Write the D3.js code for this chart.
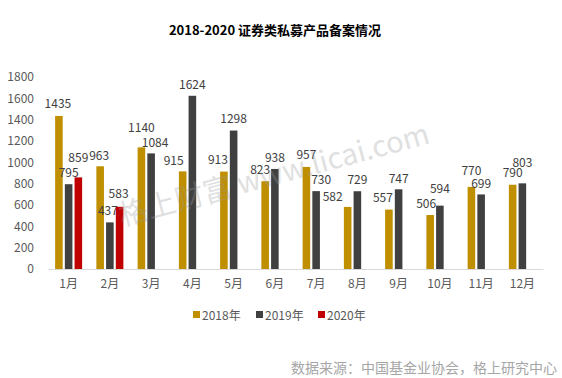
<!DOCTYPE html>
<html><head><meta charset="utf-8">
<script src="https://cdn.jsdelivr.net/npm/d3@7"></script>
<style>
body{margin:0;background:#fff;}
svg text{font-family:"Noto Sans CJK SC","Noto Sans",sans-serif;}
</style></head>
<body><svg id="c" width="562" height="378"></svg>
<script>
const title = "2018-2020 证券类私募产品备案情况";
const months = ["1月","2月","3月","4月","5月","6月","7月","8月","9月","10月","11月","12月"];
const seriesNames = ["2018年","2019年","2020年"];
const v2018 = [1435,963,1140,915,913,823,957,582,557,506,770,790];
const v2019 = [795,437,1084,1624,1298,938,730,729,747,594,699,803];
const v2020 = [859,583,null,null,null,null,null,null,null,null,null,null];
const yTicks = [0,200,400,600,800,1000,1200,1400,1600,1800];
const colors = ["#BF8F00","#404040","#C00000"];
const source = "数据来源：中国基金业协会，格上研究中心";
const watermark = "格上财富  www.licai.com";
// label nudges (px) relative to default position above each bar
const lblDx = [[-1,-1,0,-9,-6,-5,0,-15,-6,-4,0,0],[0,-2,4,0,0,0,5,0,0,0,0,0],[0,-1]];
const lblDy = [[-1,0,-9,0,-1,-1,-1,1,-1,-1,-5,-1],[-1,-1,0,0,-1,0,-1,-1,0,-6,0,-10],[-9,-2]];

const svg = d3.select("#c");
const values = [v2018, v2019, v2020];

const x = d3.scaleBand().domain(months).range([48,543]);
const xs = d3.scaleBand().domain(seriesNames).range([-13.5,13.5]).paddingInner(0.22);
const y = d3.scaleLinear().domain([0,1800]).range([269,77]);

svg.append("text").attr("x",275).attr("y",29).attr("text-anchor","middle")
  .attr("dominant-baseline","central").attr("font-size",13).attr("font-weight","bold")
  .attr("fill","#000").text(title);

// y axis
const ya = svg.append("g").attr("transform","translate(36,0)")
  .call(d3.axisLeft(y).tickValues(yTicks).tickFormat(d3.format("d")).tickSize(0).tickPadding(2));
ya.select(".domain").remove();
ya.selectAll("text").attr("font-size",12).attr("fill","#595959")
  .style("font-family","'Noto Sans CJK SC',sans-serif");

// x axis
const xa = svg.append("g").attr("transform","translate(0,269)")
  .call(d3.axisBottom(x).tickSize(0).tickPadding(10));
xa.select(".domain").attr("stroke","#D9D9D9").attr("stroke-width",1);
xa.selectAll("text").attr("font-size",12).attr("fill","#595959")
  .style("font-family","'Noto Sans CJK SC',sans-serif");

// bars
seriesNames.forEach((s,si)=>{
  const data = months.map((m,i)=>({m,i,v:values[si][i]})).filter(d=>d.v!=null);
  svg.append("g").selectAll("rect").data(data).join("rect")
    .attr("x",d=>x(d.m)+x.bandwidth()/2+xs(s))
    .attr("width",xs.bandwidth())
    .attr("y",d=>y(d.v)).attr("height",d=>y(0)-y(d.v))
    .attr("fill",colors[si]);
  svg.append("g").selectAll("text").data(data).join("text")
    .attr("x",d=>x(d.m)+x.bandwidth()/2+xs(s)+xs.bandwidth()/2+(lblDx[si][d.i]||0))
    .attr("y",d=>y(d.v)-12+(lblDy[si][d.i]||0))
    .attr("text-anchor","middle").attr("dominant-baseline","central")
    .attr("font-size",12).attr("fill","#404040").text(d=>d.v);
});

// legend
const lx = [193,256,318];
const lg = svg.append("g");
seriesNames.forEach((s,i)=>{
  lg.append("rect").attr("x",lx[i]).attr("y",311).attr("width",7).attr("height",7).attr("fill",colors[i]);
  lg.append("text").attr("x",lx[i]+9).attr("y",314.5).attr("dominant-baseline","central")
    .attr("font-size",12).attr("fill","#595959").text(s);
});

// source
svg.append("text").attr("x",557).attr("y",367).attr("text-anchor","end")
  .attr("dominant-baseline","central").attr("font-size",14).attr("fill","#A6A6A6").text(source);

// watermark
svg.append("text").attr("transform","translate(122,226) rotate(-15)")
  .attr("font-size",29).attr("fill","#9a9a9a").attr("opacity",0.3).text(watermark);
</script></body></html>
